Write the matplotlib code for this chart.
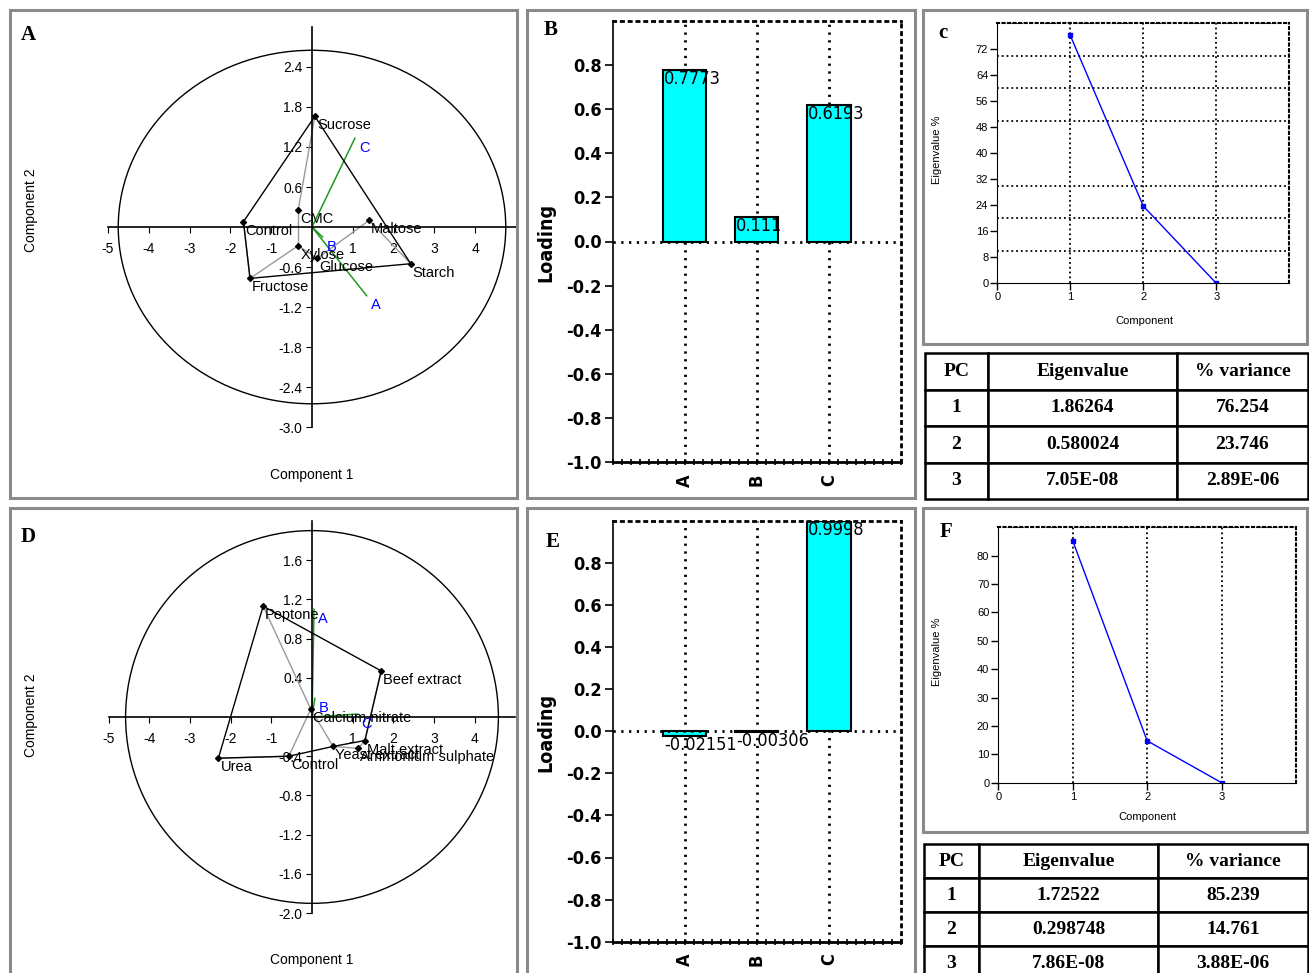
import matplotlib
matplotlib.use('Agg')
import matplotlib.pyplot as plt
from matplotlib.patches import Rectangle, Ellipse
from matplotlib.ticker import MultipleLocator
import numpy as np

W, H = 1309, 973
plt.rcParams['axes.unicode_minus'] = False
plt.rcParams['font.family'] = ['Liberation Sans', 'DejaVu Sans']
NARROW = ['DejaVu Sans']
SERIF = ['Liberation Serif', 'DejaVu Serif']

# ---- carbon sources (top row) ----
carbon_names = ['Sucrose', 'CMC', 'Control', 'Maltose', 'Xylose', 'Glucose', 'Starch', 'Fructose']
carbon_pc1 = [0.07, -0.34, -1.68, 1.40, -0.34, 0.13, 2.42, -1.52]
carbon_pc2 = [1.66, 0.25, 0.08, 0.10, -0.28, -0.47, -0.55, -0.77]
carbon_tree = [('Sucrose', 'CMC'), ('CMC', 'Xylose'), ('Xylose', 'Fructose'), ('Fructose', 'Control'),
               ('Xylose', 'Glucose'), ('Glucose', 'Maltose'), ('Maltose', 'Starch')]
carbon_hull = ['Control', 'Sucrose', 'Starch', 'Fructose']
carbon_vec_x = [1.34, 0.26, 1.05]
carbon_vec_y = [-1.03, -0.15, 1.33]
carbon_loading = [0.7773, 0.111, 0.6193]
carbon_var = [76.254, 23.746, 2.89e-06]
carbon_rows = [['1', '1.86264', '76.254'], ['2', '0.580024', '23.746'], ['3', '7.05E-08', '2.89E-06']]

# ---- nitrogen sources (bottom row) ----
nitro_names = ['Peptone', 'Beef extract', 'Calcium nitrate', 'Malt extract', 'Yeast extract',
               'Ammonium sulphate', 'Control', 'Urea']
nitro_pc1 = [-1.20, 1.70, -0.03, 1.30, 0.52, 1.14, -0.57, -2.30]
nitro_pc2 = [1.13, 0.47, 0.08, -0.24, -0.30, -0.32, -0.40, -0.42]
nitro_tree = [('Urea', 'Control'), ('Control', 'Calcium nitrate'), ('Calcium nitrate', 'Peptone'),
              ('Calcium nitrate', 'Yeast extract'), ('Yeast extract', 'Ammonium sulphate'),
              ('Ammonium sulphate', 'Malt extract'), ('Malt extract', 'Beef extract')]
nitro_hull = ['Urea', 'Peptone', 'Beef extract', 'Malt extract', 'Yeast extract', 'Control']
nitro_vec_x = [0.05, 0.07, 1.12]
nitro_vec_y = [1.10, 0.19, 0.03]
nitro_loading = [-0.02151, -0.00306, 0.9998]
nitro_var = [85.239, 14.761, 3.88e-06]
nitro_rows = [['1', '1.72522', '85.239'], ['2', '0.298748', '14.761'], ['3', '7.86E-08', '3.88E-06']]

var_names = ['A', 'B', 'C']
table_header = ['PC', 'Eigenvalue', '% variance']
loading_ticks = [-1.0, -0.8, -0.6, -0.4, -0.2, 0.0, 0.2, 0.4, 0.6, 0.8]


def fbox(x0, y0, x1, y1):
    return [x0 / W, 1 - y1 / H, (x1 - x0) / W, (y1 - y0) / H]


fig = plt.figure(figsize=(W / 100, H / 100), dpi=100)

# panel frames
for x0, y0, x1, y1 in [(10, 10, 517, 498), (527, 10, 915, 498), (923, 10, 1307, 344),
                       (10, 508, 517, 985), (527, 508, 915, 985), (923, 508, 1307, 832)]:
    fig.add_artist(Rectangle((x0 / W, 1 - y1 / H), (x1 - x0) / W, (y1 - y0) / H,
                             transform=fig.transFigure, fill=False, ec='#8a8a8a', lw=2.2))


def biplot(rect, ylim, ybounds, yticks, names, px, py, tree, hull, vx, vy, ell, xlab_y, ylab_y):
    ax = fig.add_axes(fbox(*rect))
    ax.patch.set_visible(False)
    ax.set_xlim(-5.3, 5.3)
    ax.set_ylim(*ylim)
    for s in ['top', 'right']:
        ax.spines[s].set_visible(False)
    ax.spines['left'].set_position('zero')
    ax.spines['bottom'].set_position('zero')
    ax.spines['left'].set_bounds(*ybounds)
    ax.spines['bottom'].set_bounds(-5, 5)
    ax.spines['left'].set_linewidth(1.2)
    ax.spines['bottom'].set_linewidth(1.2)
    xt = [-5, -4, -3, -2, -1, 1, 2, 3, 4]
    ax.set_xticks(xt)
    ax.set_xticklabels([str(v) for v in xt], fontsize=10)
    ax.set_yticks(yticks)
    ax.set_yticklabels(['%.1f' % v for v in yticks], fontsize=10)
    ax.tick_params(axis='x', direction='out', length=4, pad=7)
    ax.tick_params(axis='y', direction='out', length=4, pad=3)
    ax.add_patch(Ellipse((0, 0), 2 * ell[0], 2 * ell[1], fill=False, ec='black', lw=1))
    idx = {n: i for i, n in enumerate(names)}
    for a, b in tree:
        ax.plot([px[idx[a]], px[idx[b]]], [py[idx[a]], py[idx[b]]], color='#9a9a9a', lw=1)
    hx = [px[idx[n]] for n in hull] + [px[idx[hull[0]]]]
    hy = [py[idx[n]] for n in hull] + [py[idx[hull[0]]]]
    ax.plot(hx, hy, color='black', lw=1)
    ax.plot(px, py, 'D', color='black', ms=3)
    for n, x, y in zip(names, px, py):
        ax.annotate(n, (x, y), xytext=(1.5, -6.5), textcoords='offset points',
                    ha='left', va='center', fontsize=10.5)
    for n, x, y in zip(var_names, vx, vy):
        ax.plot([0, x], [0, y], color='#1f9a1f', lw=1.1, zorder=1)
        ax.annotate(n, (x, y), xytext=(3, -7), textcoords='offset points',
                    ha='left', va='center', fontsize=10.5, color='blue')
    fig.text(312 / W, 1 - xlab_y / H, 'Component 1', ha='center', va='center', fontsize=10)
    fig.text(31 / W, 1 - ylab_y / H, 'Component 2', ha='center', va='center', fontsize=10, rotation=90)
    return ax


biplot((95.8, 13.6, 528.2, 453.8), (-3.4, 3.2), (-3.0, 3.0),
       [-3.0, -2.4, -1.8, -1.2, -0.6, 0.6, 1.2, 1.8, 2.4],
       carbon_names, carbon_pc1, carbon_pc2, carbon_tree, carbon_hull,
       carbon_vec_x, carbon_vec_y, (4.75, 2.65), 475, 210)
biplot((96.3, 511, 527.7, 952.4), (-2.4, 2.1), (-2.0, 2.0),
       [-2.0, -1.6, -1.2, -0.8, -0.4, 0.4, 0.8, 1.2, 1.6],
       nitro_names, nitro_pc1, nitro_pc2, nitro_tree, nitro_hull,
       nitro_vec_x, nitro_vec_y, (4.58, 1.9), 960, 715)

DOT = (0, (0.8, 2.0))


def loading_bars(rect, vals, ylab_y):
    ax = fig.add_axes(fbox(*rect))
    pos = np.arange(1, len(vals) + 1)
    ax.set_axisbelow(True)
    ax.xaxis.grid(True, which='major', ls=DOT, color='black', lw=2)
    ax.bar(pos, vals, width=0.6, color='#00FFFF', edgecolor='black', lw=1.5, zorder=2)
    ax.axhline(0, ls=DOT, color='black', lw=2, zorder=3)
    for p, v in zip(pos, vals):
        ax.text(p - 0.29, v, str(v), ha='left', va='top', fontsize=13,
                family=NARROW, fontstretch='condensed', zorder=4)
    ax.set_xlim(0, 4)
    ax.set_ylim(-1, 1)
    ax.set_yticks(loading_ticks)
    ax.set_yticklabels(['%.1f' % v for v in loading_ticks], fontsize=13, family=NARROW,
                       fontstretch='condensed', fontweight='bold')
    ax.set_xticks(pos)
    ax.set_xticklabels(var_names, rotation=90, fontsize=13, family=NARROW,
                       fontstretch='condensed', fontweight='bold')
    ax.xaxis.set_minor_locator(MultipleLocator(0.125))
    ax.tick_params(axis='x', which='both', direction='inout', length=5, width=1.2, pad=6)
    ax.tick_params(axis='y', direction='out', length=5.5, width=1.2, pad=2.5)
    for s in ['top', 'right']:
        ax.spines[s].set_linestyle(DOT)
        ax.spines[s].set_linewidth(2)
    ax.spines['bottom'].set_linewidth(2)
    ax.spines['left'].set_linewidth(1.2)
    fig.text(546 / W, 1 - ylab_y / H, 'Loading', rotation=90, ha='center', va='center',
             fontsize=14, fontweight='bold', family=NARROW, fontstretch='condensed')
    return ax


loading_bars((612.7, 20.7, 901, 462.3), carbon_loading, 242)
loading_bars((612.7, 520.7, 901, 941.7), nitro_loading, 732)


def scree(rect, vals, ymax, ystep, xlab, ylab):
    ax = fig.add_axes(fbox(*rect))
    comps = np.arange(1, len(vals) + 1)
    ax.plot(comps, vals, color='blue', lw=1, marker='s', ms=2.5)
    ax.set_xlim(0, 4)
    ax.set_ylim(0, ymax)
    ax.set_xticks([0, 1, 2, 3])
    ax.set_yticks(np.arange(0, ymax - 1, ystep))
    ax.yaxis.set_minor_locator(MultipleLocator(10))
    ax.grid(axis='y', which='minor', ls=':', color='black', lw=1.3)
    ax.grid(axis='x', which='major', ls=':', color='black', lw=1.3)
    ax.tick_params(which='minor', length=0)
    ax.tick_params(which='major', direction='out', length=5, width=1, labelsize=8, pad=1.5)
    for s in ['top', 'right']:
        ax.spines[s].set_linestyle(':')
        ax.spines[s].set_linewidth(1.5)
    fig.text(xlab[0] / W, 1 - xlab[1] / H, 'Component', ha='center', va='center', fontsize=8)
    fig.text(ylab[0] / W, 1 - ylab[1] / H, 'Eigenvalue %', ha='center', va='center',
             fontsize=8, rotation=90)
    return ax


scree((997.3, 23.3, 1289.3, 283.3), carbon_var, 80, 8, (1144, 321), (937, 150))
scree((998.3, 527.3, 1296, 782.7), nitro_var, 90, 10, (1147, 817), (937, 652))


def pc_table(rect, rows, widths):
    ax = fig.add_axes(fbox(*rect))
    ax.axis('off')
    t = ax.table(cellText=rows, colLabels=table_header, colWidths=widths,
                 cellLoc='center', bbox=[0, 0, 1, 1])
    t.auto_set_font_size(False)
    for (r, c), cell in t.get_celld().items():
        cell.set_linewidth(1.8)
        txt = cell.get_text()
        txt.set_fontfamily(SERIF)
        txt.set_fontweight('bold')
        txt.set_fontsize(14)
    return ax


pc_table((925, 353, 1308, 499), carbon_rows, [63, 189, 131])
pc_table((924, 844, 1308, 980), nitro_rows, [55, 179, 150])

# panel letters
for letter, x, y in [('A', 21, 40), ('B', 544, 35), ('c', 938, 38),
                     ('D', 21, 542), ('E', 546, 547), ('F', 940, 537)]:
    fig.text(x / W, 1 - y / H, letter, ha='left', va='baseline', fontsize=15,
             fontweight='bold', family=SERIF)

fig.savefig('out.png', dpi=100)
